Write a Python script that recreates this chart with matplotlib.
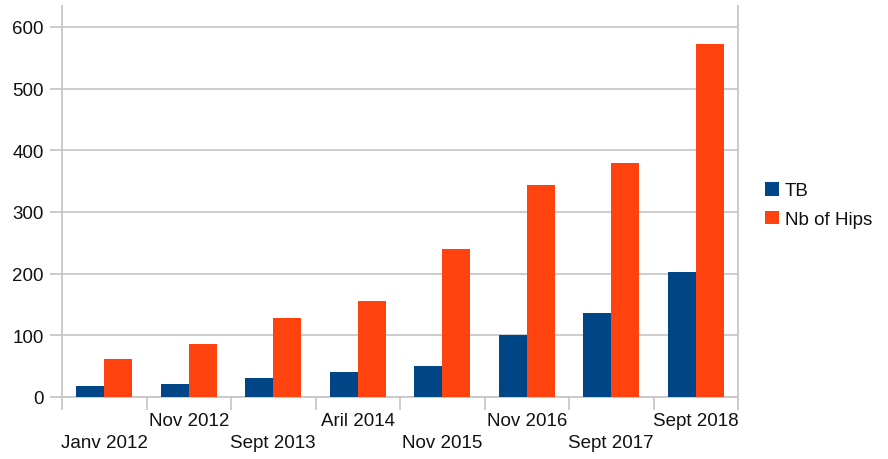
import matplotlib.pyplot as plt
import numpy as np

# dates of each survey and the two series
dates = ['Janv 2012', 'Nov 2012', 'Sept 2013', 'Aril 2014',
         'Nov 2015', 'Nov 2016', 'Sept 2017', 'Sept 2018']
tb = [18, 21, 30, 40, 51, 100, 137, 203]
hips = [61, 86, 128, 155, 240, 344, 380, 573]

plt.rcParams['font.family'] = ['Liberation Sans', 'DejaVu Sans']

fig = plt.figure(figsize=(8.88, 4.6), dpi=100)
ax = fig.add_axes([62 / 888, 1 - 398 / 460, 676 / 888, 391 / 460])

x = np.arange(len(dates))
w = 0.33
ax.bar(x - w / 2, tb, w, color='#004586', label='TB', zorder=3)
ax.bar(x + w / 2, hips, w, color='#ff420e', label='Nb of Hips', zorder=3)

line_col = '#c8c8c8'
ax.set_xlim(-0.5, len(dates) - 0.5)
ax.set_ylim(0, 634)
ax.set_yticks(range(0, 700, 100))
ax.grid(axis='y', color=line_col, linewidth=1.3, zorder=0)

# category boundaries get the tick marks, labels sit at the centres
ax.set_xticks(x)
ax.set_xticklabels(dates)
ax.set_xticks(np.arange(-0.5, len(dates)), minor=True)
ax.tick_params(axis='x', which='major', length=0, labelsize=13.5, labelcolor='#111111')
ax.tick_params(axis='x', which='minor', length=9, width=1.3, color=line_col)
ax.tick_params(axis='y', length=9, width=1.3, color=line_col, labelsize=13.5,
               labelcolor='#111111', pad=4)
for i, tick in enumerate(ax.xaxis.get_major_ticks()):
    tick.set_pad(27 if i % 2 == 0 else 11)

ax.spines['top'].set_visible(False)
for side in ['left', 'right', 'bottom']:
    ax.spines[side].set_color(line_col)
    ax.spines[side].set_linewidth(1.3)

fig.legend(loc='center left', bbox_to_anchor=(0.853, 0.552), frameon=False,
           fontsize=13.5, handlelength=0.75, handleheight=0.75,
           handletextpad=0.3, labelspacing=0.6, borderaxespad=0,
           labelcolor='#111111')

fig.savefig('out.png', dpi=100)
